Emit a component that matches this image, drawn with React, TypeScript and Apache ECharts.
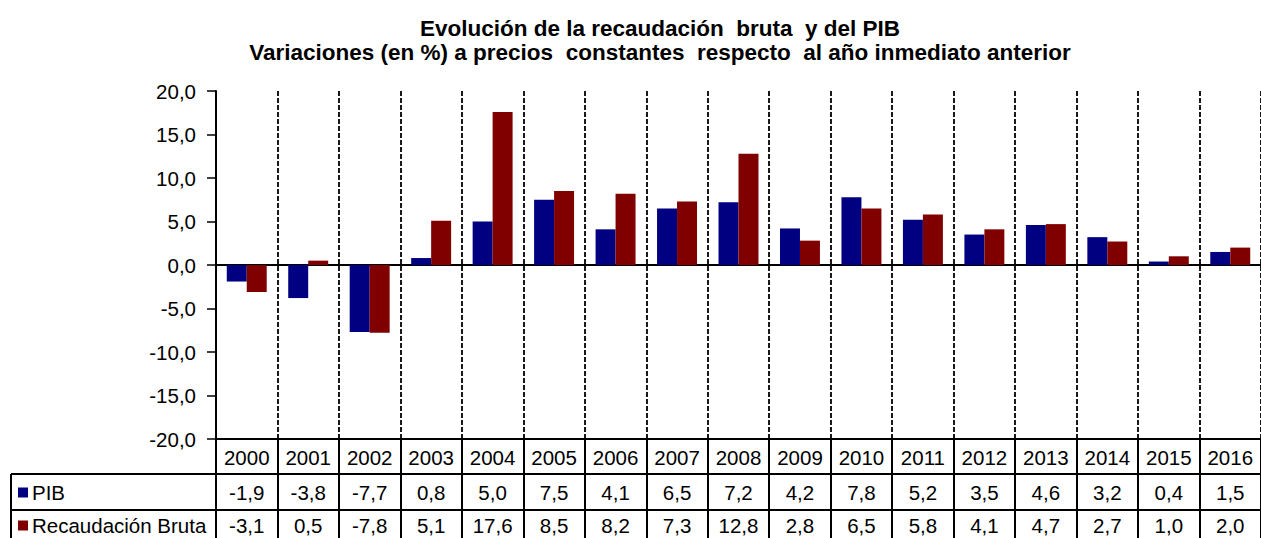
import React, { useEffect, useRef } from "react";
import * as echarts from "echarts";

const years = ["2000","2001","2002","2003","2004","2005","2006","2007","2008","2009","2010","2011","2012","2013","2014","2015","2016"];
const pib = [-1.9, -3.8, -7.7, 0.8, 5.0, 7.5, 4.1, 6.5, 7.2, 4.2, 7.8, 5.2, 3.5, 4.6, 3.2, 0.4, 1.5];
const recaudacion = [-3.1, 0.5, -7.8, 5.1, 17.6, 8.5, 8.2, 7.3, 12.8, 2.8, 6.5, 5.8, 4.1, 4.7, 2.7, 1.0, 2.0];
const seriesNames = ["PIB", "Recaudación Bruta"];
const titleLines = [
  "Evolución de la recaudación  bruta  y del PIB",
  "Variaciones (en %) a precios  constantes  respecto  al año inmediato anterior",
];

const fmt = (v: number) => v.toFixed(1).replace(".", ",");
const FONT = "Liberation Sans, Arial, sans-serif";
const FS = 20.5;

export default function App() {
  const ref = useRef<HTMLDivElement>(null);
  useEffect(() => {
    document.body.style.margin = "0";
    if (!ref.current) return;
    const chart = echarts.init(ref.current, null, { renderer: "svg" });
    const GL = 216, GT = 91, GB = 439;
    const rowAxis = (offset: number, values: number[] | null, tickLen: number, margin: number) => ({
      type: "category",
      data: years,
      gridIndex: 0,
      position: "bottom",
      offset,
      axisLine: { show: true, onZero: false, lineStyle: { color: "#000", width: 2 } },
      axisTick: { show: true, length: tickLen, lineStyle: { color: "#000", width: 2 } },
      axisLabel: {
        show: true,
        interval: 0,
        margin,
        color: "#000",
        fontFamily: FONT,
        fontSize: FS,
        lineHeight: 21,
        formatter: (v: string, i: number) => (values ? fmt(values[i]) : v),
      },
      splitLine: { show: false },
    });
    const option: any = {
      animation: false,
      backgroundColor: "#fff",
      title: {
        text: titleLines.join("\n"),
        left: 655,
        top: 11,
        textAlign: "center",
        textStyle: { fontFamily: FONT, fontWeight: "bold", fontSize: 22.5, lineHeight: 24, color: "#000" },
      },
      legend: {
        orient: "vertical",
        left: 18,
        top: 482,
        height: 120,
        padding: 0,
        itemGap: 12,
        itemWidth: 10,
        itemHeight: 10,
        icon: "rect",
        data: seriesNames,
        textStyle: { fontFamily: FONT, fontSize: FS, lineHeight: 21, color: "#000", padding: [0, 0, 0, -1] },
      },
      grid: { left: GL, top: GT, right: 0, bottom: 538 - GB, containLabel: false },
      xAxis: [
        {
          type: "category",
          data: years,
          axisLine: { show: true, onZero: true, lineStyle: { color: "#000", width: 2 } },
          axisTick: { show: false },
          axisLabel: { show: false },
          splitLine: { show: true, lineStyle: { color: "#000", width: 1.8, type: [5, 2] } },
        },
        rowAxis(0, null, 35, 8),
        rowAxis(35, pib, 36, 8),
        rowAxis(71, recaudacion, 40, 5),
      ],
      yAxis: {
        type: "value",
        min: -20,
        max: 20,
        interval: 5,
        axisLine: { show: true, onZero: false, lineStyle: { color: "#000", width: 2 } },
        axisTick: { show: true, length: 9, lineStyle: { color: "#000", width: 1.5 } },
        axisLabel: { color: "#000", fontFamily: FONT, fontSize: FS, margin: 20, formatter: (v: number) => fmt(v) },
        splitLine: { show: false },
      },
      series: [
        { name: seriesNames[0], type: "bar", data: pib, itemStyle: { color: "#000080" }, barGap: "0%", barCategoryGap: "35%" },
        { name: seriesNames[1], type: "bar", data: recaudacion, itemStyle: { color: "#800000" }, barGap: "0%", barCategoryGap: "35%" },
      ],
      graphic: [
        { type: "line", shape: { x1: 11, y1: 474, x2: GL, y2: 474 }, style: { stroke: "#000", lineWidth: 2 } },
        { type: "line", shape: { x1: 11, y1: 510, x2: GL, y2: 510 }, style: { stroke: "#000", lineWidth: 2 } },
        { type: "line", shape: { x1: 11, y1: 474, x2: 11, y2: 538 }, style: { stroke: "#000", lineWidth: 2 } },
      ],
    };
    chart.setOption(option);
    return () => chart.dispose();
  }, []);
  return <div ref={ref} style={{ width: 1261, height: 538 }} />;
}
